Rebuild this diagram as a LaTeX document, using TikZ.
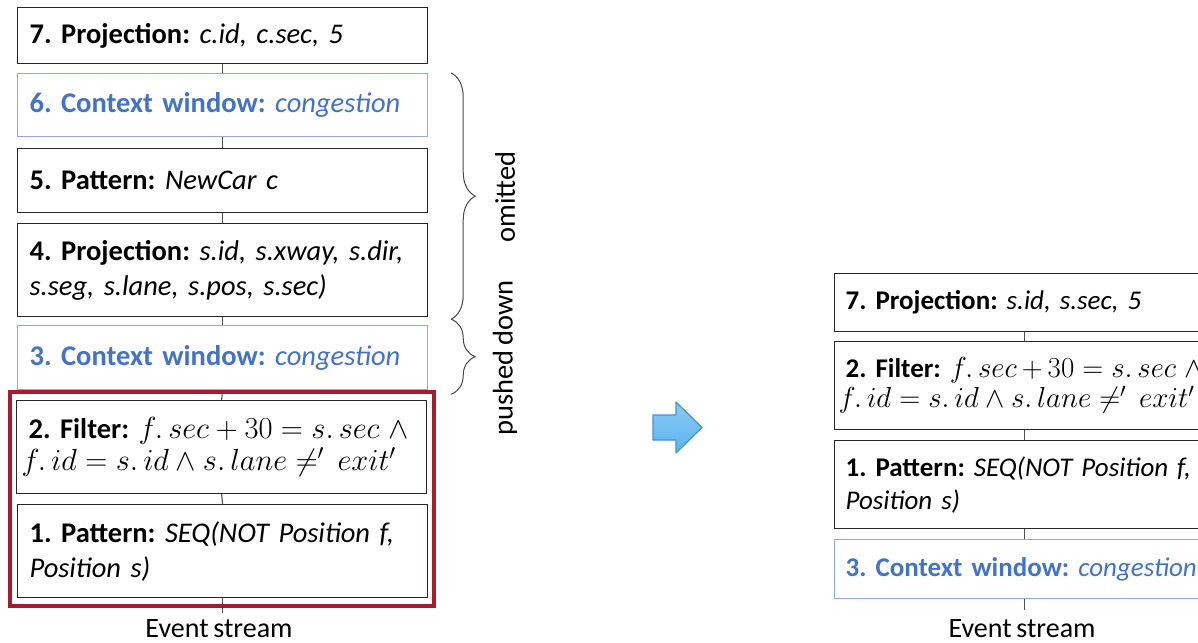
\RequirePackage{fix-cm}
\documentclass[tikz,border=0pt]{standalone}
\usepackage[no-math]{fontspec}
\setmainfont{Carlito}[WordSpace=0.75]
\usetikzlibrary{decorations.pathreplacing,fit,calc}

\definecolor{ctxblue}{HTML}{4472C4}
\definecolor{ctxedge}{HTML}{8FAADC}
\definecolor{selred}{HTML}{A51C30}
\definecolor{arrowfill}{HTML}{5BB3EE}
\definecolor{arrowedge}{HTML}{3E93D6}
\definecolor{ink}{HTML}{262626}

% the filter predicate, set a little larger than the text around it
\newcommand{\predone}[1]{{\fontsize{#1}{#1}\selectfont$f.\,sec+30=s.\,sec\;\wedge$}}
\newcommand{\predtwo}[1]{{\fontsize{#1}{#1}\selectfont$f.\,id=s.\,id\wedge s.\,lane\neq'\,exit'$}}

\tikzset{
  opbox/.style={draw=ink, line width=1.2pt, fill=white, anchor=north west,
    align=left, inner xsep=12pt, inner ysep=0pt, text width=386pt,
    font=\fontsize{28.5}{35}\selectfont},
  ctxbox/.style={opbox, draw=ctxedge, text=ctxblue},
  ropbox/.style={opbox, inner xsep=11pt, text width=358pt,
    font=\fontsize{27}{33}\selectfont},
  rctxbox/.style={ropbox, draw=ctxedge, text=ctxblue},
  link/.style={draw=ink!80, line width=1.1pt},
  bracket/.style={draw=ink!85, line width=1pt, decorate},
  sidelabel/.style={rotate=90, font=\fontsize{28.5}{30}\selectfont},
  streamlabel/.style={anchor=base, font=\fontsize{28}{30}\selectfont, inner sep=0pt},
}

\begin{document}
\frenchspacing
\begin{tikzpicture}[x=1pt, y=-1pt]
\useasboundingbox (0,0) rectangle (1198,642);
\clip (0,0) rectangle (1198,642);

% ---- original plan (left) ----
\node[opbox, minimum height=56pt] (a7) at (17,7)
  {\textbf{7. Projection:} \textit{c.id, c.sec, 5}};
\node[ctxbox, minimum height=63pt] (a6) at (17,73)
  {\textbf{6. Context window:} \textit{congestion}};
\node[opbox, minimum height=64pt] (a5) at (17,148)
  {\textbf{5. Pattern:} \textit{NewCar c}};
\node[opbox, minimum height=93pt] (a4) at (17,223)
  {\textbf{4. Projection:} \textit{s.id, s.xway, s.dir,}\\ \textit{s.seg, s.lane, s.pos, s.sec)}};
\node[ctxbox, minimum height=64pt] (a3) at (17,325)
  {\textbf{3. Context window:} \textit{congestion}};
\node[opbox, minimum height=93pt] (a2) at (16,400)
  {\textbf{2. Filter:} \predone{30.5}\\[-3pt]
   \hspace*{-7pt}\predtwo{30.5}};
\node[opbox, minimum height=93pt] (a1) at (17,504)
  {\textbf{1. Pattern:} \textit{SEQ(NOT Position f,}\\ \textit{Position s)}};
\node[streamlabel] (ae) at (219,637) {Event stream};
\coordinate (aend) at ($(a1.south)+(0,15)$);

\draw[link] (a7.south) -- (a6.north);
\draw[link] (a6.south) -- (a5.north);
\draw[link] (a5.south) -- (a4.north);
\draw[link] (a4.south) -- (a3.north);
\draw[link] (a3.south) -- (a2.north);
\draw[link] (a2.south) -- (a1.north);
\draw[link] (a1.south) -- (aend);

% selected operators
\node[draw=selred, line width=3.6pt, inner xsep=6pt, inner ysep=8pt, fit=(a2)(a1)] (sel) {};

% braces with their labels
\coordinate (om1) at ($(a6.north east)+(23,0)$);
\coordinate (om2) at ($(a4.south east)+(23,2)$);
\coordinate (pd2) at ($(a3.south east)+(23,4)$);
\draw[bracket, decoration={brace, amplitude=24pt, aspect=0.5}] (om1) -- (om2);
\draw[bracket, decoration={brace, amplitude=24pt, aspect=0.5}] (om2) -- (pd2);
\node[sidelabel] (omit) at (505,197) {omitted};
\node[sidelabel] (push) at (505,358) {pushed down};

% rewrite arrow
\shade[top color=arrowfill!70!white, bottom color=arrowfill, draw=arrowedge, line width=1.2pt, line join=round]
  (653,415) -- (676,415) -- (676,402) -- (702,427.5) -- (676,453) -- (676,440) -- (653,440) -- cycle;

% ---- rewritten plan (right) ----
\node[ropbox, minimum height=58pt] (b7) at (834,273)
  {\textbf{7. Projection:} \textit{s.id, s.sec, 5}};
\node[ropbox, minimum height=88pt] (b2) at (834,341)
  {\textbf{2. Filter:} \predone{29}\\[-3pt]
   \hspace*{-7pt}\predtwo{29}};
\node[ropbox, minimum height=88pt] (b1) at (834,440)
  {\textbf{1. Pattern:} \textit{SEQ(NOT Position f,}\\ \textit{Position s)}};
\node[rctxbox, minimum height=59pt] (b3) at (834,539)
  {\textbf{3. Context window:} \textit{congestion}};
\node[streamlabel] (be) at (1022,637) {Event stream};
\coordinate (bend) at ($(b3.south)+(0,11)$);

\draw[link] (b7.south) -- (b2.north);
\draw[link] (b2.south) -- (b1.north);
\draw[link] (b1.south) -- (b3.north);
\draw[link] (b3.south) -- (bend);
\end{tikzpicture}
\end{document}
